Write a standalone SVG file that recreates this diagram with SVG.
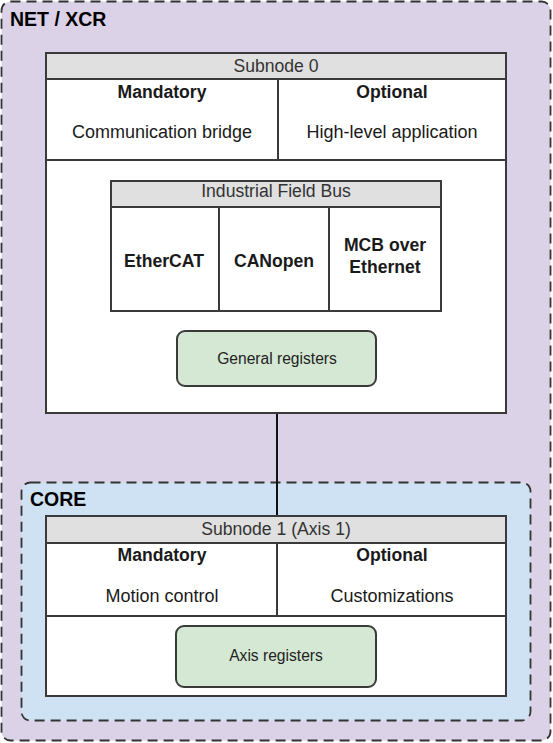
<svg xmlns="http://www.w3.org/2000/svg" width="553" height="743" viewBox="0 0 553 743">
<style>
text{font-family:"Liberation Sans",Arial,sans-serif;fill:#1a1a1a;text-anchor:middle}
.grp{stroke:#333;stroke-width:1.8;stroke-dasharray:10 6}
.box{fill:#fff;stroke:#3a3a3a;stroke-width:2}
.hdr{fill:#e0e0e0;stroke:#3a3a3a;stroke-width:2}
.reg{fill:#d5e8d4;stroke:#3a3a3a;stroke-width:2}
.t{font-size:18px}
.b{font-size:17.6px;font-weight:bold}
.h{font-size:17.6px;fill:#333}
.r{font-size:15.6px;fill:#222}
.g{font-size:19.5px;font-weight:bold;text-anchor:start;fill:#000}
</style>
<g id="net-xcr">
<rect x="1.5" y="1.5" width="549" height="739" rx="9" fill="#dcd2e8" class="grp"/>
<text x="10" y="26" class="g">NET / XCR</text>
</g>
<g id="core">
<rect x="21.5" y="482.5" width="509" height="238" rx="9" fill="#cfe2f3" class="grp"/>
<text x="30" y="506" class="g">CORE</text>
</g>
<g id="connectors">
<line x1="277" y1="413" x2="277" y2="516" stroke="#111" stroke-width="2"/>
</g>
<g id="subnode0">
<rect x="46" y="53" width="460" height="360" class="box"/>
<rect x="46" y="53" width="460" height="26" class="hdr"/>
<text x="276" y="72" class="h">Subnode 0</text>
<rect x="46" y="79" width="232" height="81" class="box"/>
<rect x="278" y="79" width="228" height="81" class="box"/>
<text x="162" y="98" class="b">Mandatory</text>
<text x="162" y="138" class="t">Communication bridge</text>
<text x="392" y="98" class="b">Optional</text>
<text x="392" y="138" class="t">High-level application</text>
</g>
<g id="fieldbus">
<rect x="111" y="181" width="330" height="130" class="box"/>
<rect x="111" y="181" width="330" height="26" class="hdr"/>
<text x="276" y="197" class="h">Industrial Field Bus</text>
<rect x="111" y="207" width="108" height="104" class="box"/>
<rect x="219" y="207" width="110" height="104" class="box"/>
<rect x="329" y="207" width="112" height="104" class="box"/>
<text x="164" y="267" class="b">EtherCAT</text>
<text x="274" y="267" class="b">CANopen</text>
<text x="385" y="251" class="b">MCB over</text>
<text x="385" y="273" class="b">Ethernet</text>
</g>
<g id="general-registers">
<rect x="177" y="331" width="199" height="55" rx="8" class="reg"/>
<text x="277" y="364" class="r">General registers</text>
</g>
<g id="subnode1">
<rect x="46" y="516" width="460" height="180" class="box"/>
<rect x="46" y="516" width="460" height="27" class="hdr"/>
<text x="276" y="535" class="h">Subnode 1 (Axis 1)</text>
<rect x="46" y="543" width="231" height="73" class="box"/>
<rect x="277" y="543" width="229" height="73" class="box"/>
<text x="162" y="561" class="b">Mandatory</text>
<text x="162" y="602" class="t">Motion control</text>
<text x="392" y="561" class="b">Optional</text>
<text x="392" y="602" class="t">Customizations</text>
</g>
<g id="axis-registers">
<rect x="176" y="626" width="200" height="61" rx="8" class="reg"/>
<text x="276" y="661" class="r">Axis registers</text>
</g>
</svg>
